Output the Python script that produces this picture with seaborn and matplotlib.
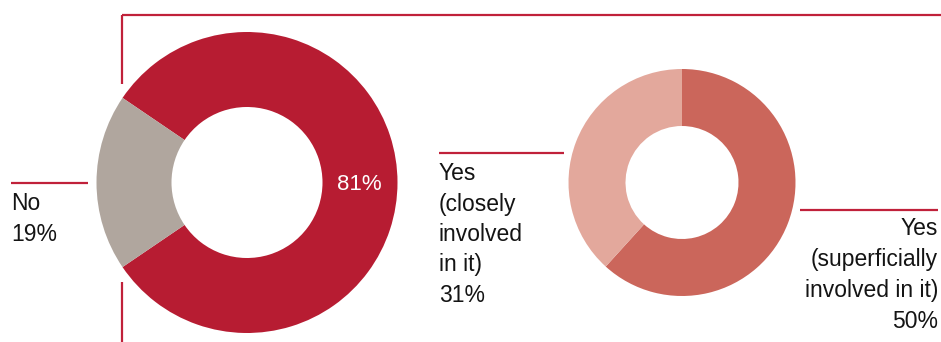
import matplotlib
matplotlib.use("Agg")
import matplotlib.pyplot as plt
import seaborn as sns

sns.set_theme(style="white")
plt.rcParams['font.family'] = ['Liberation Sans', 'DejaVu Sans']

# Data
main_labels = ["Yes", "No"]
main_values = [81, 19]
sub_labels = ["Yes (superficially involved in it)", "Yes (closely involved in it)"]
sub_values = [50, 31]

main_colors = ["#b71c32", "#b0a69e"]
sub_colors = ["#cb665b", "#e3a89c"]
line_color = "#c0213a"

W, H = 941, 342
fig = plt.figure(figsize=(W / 100, H / 100), dpi=100)
ax = fig.add_axes([0, 0, 1, 1])

def py(y):
    return H - y

# Left donut: gray slice centred on the left
gray_half = main_values[1] / sum(main_values) * 360 / 2
ax.pie(main_values, colors=main_colors, startangle=180 + gray_half, counterclock=True,
       center=(247, py(182.5)), radius=150.5,
       wedgeprops=dict(width=75, linewidth=0))

# Right donut
ax.pie(sub_values, colors=sub_colors, startangle=90, counterclock=False,
       center=(682, py(182.5)), radius=113.5,
       wedgeprops=dict(width=57, linewidth=0))

ax.set_xlim(0, W)
ax.set_ylim(0, H)
ax.set_aspect("auto")
ax.axis("off")

# Connector lines
lw = 1.6
ax.plot([122, W], [py(15), py(15)], color=line_color, lw=lw, solid_capstyle="butt")
ax.plot([122, 122], [py(15), py(84)], color=line_color, lw=lw, solid_capstyle="butt")
ax.plot([122, 122], [py(282), py(342)], color=line_color, lw=lw, solid_capstyle="butt")
ax.plot([11, 88], [py(183), py(183)], color=line_color, lw=lw, solid_capstyle="butt")
ax.plot([439, 564], [py(153), py(153)], color=line_color, lw=lw, solid_capstyle="butt")
ax.plot([800, 938], [py(210), py(210)], color=line_color, lw=lw, solid_capstyle="butt")

fs = 16.5
txt = "#141414"

# Labels
no_lines = [main_labels[1], f"{main_values[1]}%"]
for i, s in enumerate(no_lines):
    ax.text(11, py(210 + 31 * i), s, fontsize=fs, color=txt, ha="left", va="baseline")

close_lines = ["Yes", "(closely", "involved", "in it)", f"{sub_values[1]}%"]
for i, s in enumerate(close_lines):
    ax.text(439, py(180 + 30.5 * i), s, fontsize=fs, color=txt, ha="left", va="baseline")

sup_lines = ["Yes", "(superficially", "involved in it)", f"{sub_values[0]}%"]
for i, s in enumerate(sup_lines):
    ax.text(938, py(235 + 31 * i), s, fontsize=fs, color=txt, ha="right", va="baseline")

ax.text(359, py(184), f"{main_values[0]}%", fontsize=16, color="white",
        ha="center", va="center")

fig.savefig("out.png", dpi=100)
